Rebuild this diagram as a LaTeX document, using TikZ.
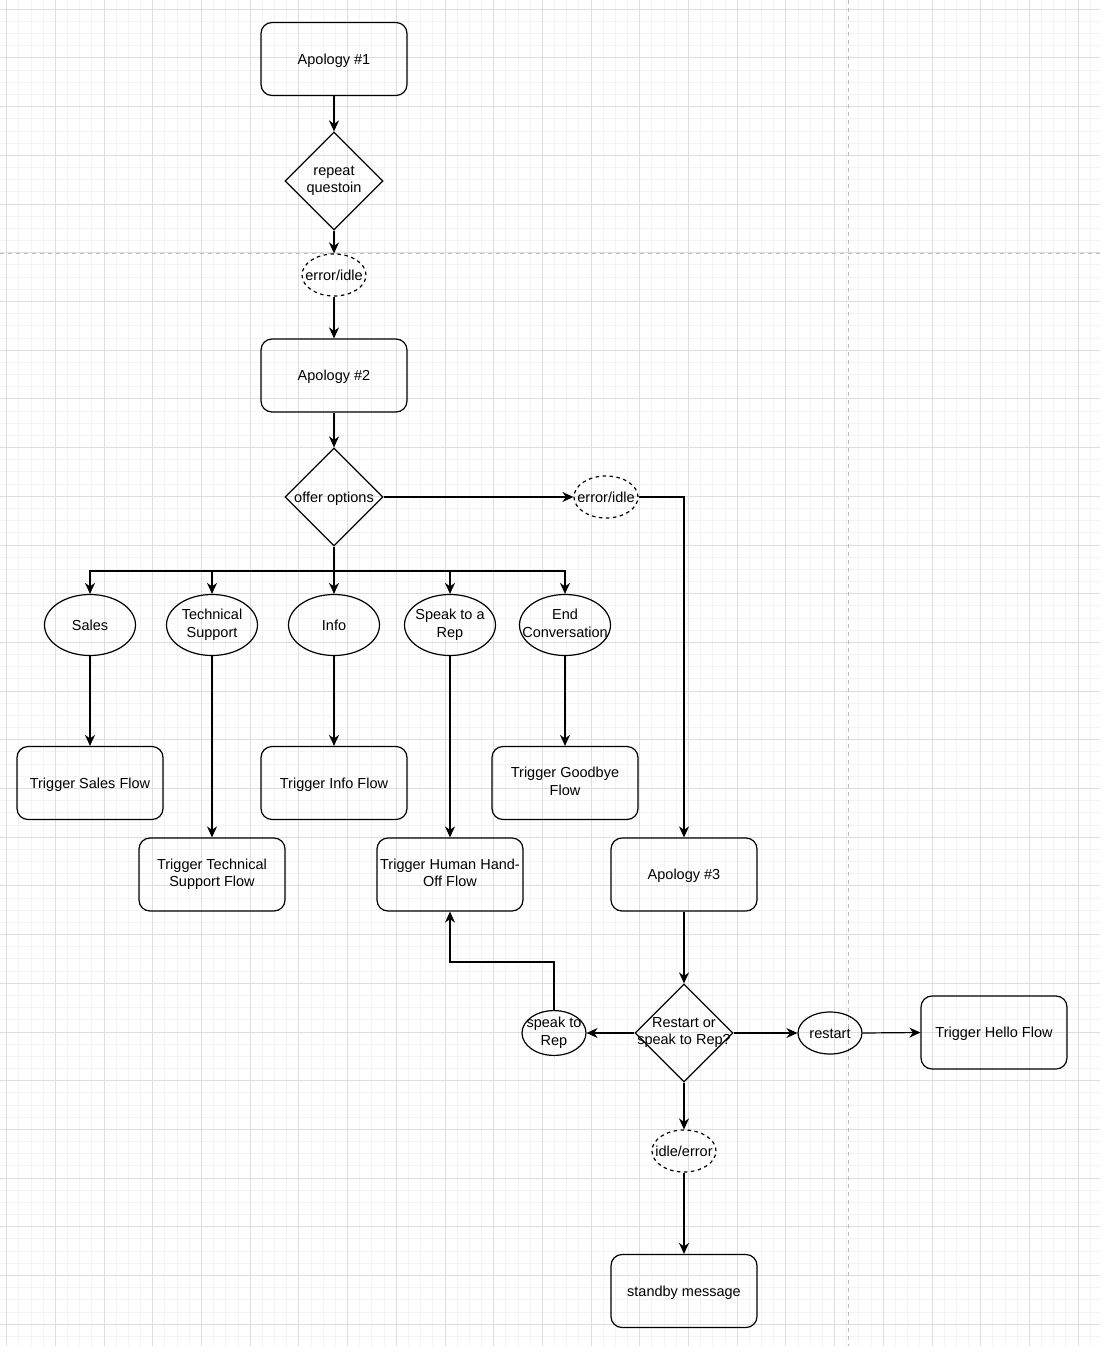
\documentclass[tikz,border=0pt]{standalone}
\usepackage{fontspec}
\setmainfont{Liberation Sans}
\usetikzlibrary{shapes.geometric,arrows.meta}
\newcommand{\zw}[1]{\makebox[0pt]{#1}}
\definecolor{gminor}{HTML}{F3F3F3}
\definecolor{gmajor}{HTML}{DEDEDE}
\definecolor{gpage}{HTML}{BDBDBD}
\begin{document}
\begin{tikzpicture}[x=1pt,y=-1pt,
  every node/.style={font=\fontsize{14.5}{17.5}\selectfont, align=center, inner sep=0pt, line width=1.2pt,
    execute at begin node={\rule{0pt}{13.7pt}}, execute at end node={\rule[-3.7pt]{0pt}{0pt}}},
  box/.style={draw, rounded corners=11pt, minimum width=146pt, minimum height=73pt},
  dia/.style={draw, diamond, minimum width=98pt, minimum height=98pt},
  oval/.style={draw, ellipse, minimum width=91pt, minimum height=61pt},
  small/.style={draw, ellipse, minimum width=64pt, minimum height=42pt},
  dsh/.style={small, dash pattern=on 3.5pt off 3.5pt},
  arr/.style={line width=1.2pt, -{Stealth[length=11pt,width=10pt,inset=3.5pt]}},
  ln/.style={line width=1.2pt},
  gridminor/.style={gminor, line width=1pt},
  gridmajor/.style={gmajor, line width=1pt},
  pagebreak/.style={gpage, line width=1pt, dash pattern=on 4pt off 4pt}
]
% background and grid
\fill[white] (0,0) rectangle (1100,1346);
\useasboundingbox (0,0) rectangle (1100,1346);
\foreach \i in {-1,...,90} \draw[gridminor] ({6.7+12.175*\i},0) -- ({6.7+12.175*\i},1346);
\foreach \i in {-1,...,110} \draw[gridminor] (0,{9.3+12.175*\i}) -- (1100,{9.3+12.175*\i});
\foreach \i in {0,...,22} \draw[gridmajor] ({6.7+48.7*\i},0) -- ({6.7+48.7*\i},1346);
\foreach \i in {0,...,27} \draw[gridmajor] (0,{9.3+48.7*\i}) -- (1100,{9.3+48.7*\i});
\draw[pagebreak] (0,253) -- (1100,253);
\draw[pagebreak] (848,0) -- (848,1346);

% nodes
\node[box] (a1) at (334,59) {Apology \#1};
\node[dia] (d1) at (334,181) {\zw{repeat}\\\zw{questoin}};
\node[dsh] (e1) at (334,275) {\zw{error/idle}};
\node[box] (a2) at (334,375.5) {Apology \#2};
\node[dia] (d2) at (334,497) {\zw{offer options}};
\node[dsh] (e2) at (606,497) {\zw{error/idle}};
\node[oval] (sales) at (90,625) {Sales};
\node[oval] (tech) at (212,625) {\zw{Technical}\\\zw{Support}};
\node[oval] (info) at (334,625) {Info};
\node[oval] (rep) at (450,625) {\zw{Speak to a}\\\zw{Rep}};
\node[oval] (endc) at (565,625) {\zw{End}\\\zw{Conversation}};
\node[box] (tsales) at (90,783) {Trigger Sales Flow};
\node[box] (tinfo) at (334,783) {Trigger Info Flow};
\node[box] (tgood) at (565,783) {Trigger Goodbye\\Flow};
\node[box] (ttech) at (212,874.5) {Trigger Technical\\Support Flow};
\node[box] (thuman) at (450,874.5) {\zw{Trigger Human Hand-}\\\zw{Off Flow}};
\node[box] (a3) at (684,874.5) {Apology \#3};
\node[dia] (d3) at (684,1033) {\zw{Restart or}\\\zw{speak to Rep?}};
\node[small] (srep) at (554,1033) {\zw{speak to}\\\zw{Rep}};
\node[small] (rst) at (830,1033) {\zw{restart}};
\node[box] (thello) at (994,1032.5) {Trigger Hello Flow};
\node[dsh] (ie) at (684,1151) {\zw{idle/error}};
\node[box] (standby) at (684,1291) {standby message};

% connectors
\draw[arr] (a1.south) -- (d1.north);
\draw[arr] (d1.south) -- (e1.north);
\draw[arr] (e1.south) -- (a2.north);
\draw[arr] (a2.south) -- (d2.north);
\draw[arr] (d2.east) -- (e2.west);
\draw[arr] (e2.east) -| (a3.north);
\coordinate (bus) at (334,571);
\draw[ln] (d2.south) -- (bus);
\draw[arr] (bus) -| (sales.north);
\draw[arr] (bus) -| (tech.north);
\draw[arr] (bus) -- (info.north);
\draw[arr] (bus) -| (rep.north);
\draw[arr] (bus) -| (endc.north);
\draw[arr] (sales.south) -- (tsales.north);
\draw[arr] (tech.south) -- (ttech.north);
\draw[arr] (info.south) -- (tinfo.north);
\draw[arr] (rep.south) -- (thuman.north);
\draw[arr] (endc.south) -- (tgood.north);
\draw[arr] (a3.south) -- (d3.north);
\draw[arr] (d3.west) -- (srep.east);
\draw[arr] (d3.east) -- (rst.west);
\draw[arr] (rst.east) -- (thello.west);
\coordinate (kink) at (450,962);
\draw[arr] (srep.north) |- (kink) -- (thuman.south);
\draw[arr] (d3.south) -- (ie.north);
\draw[arr] (ie.south) -- (standby.north);
\end{tikzpicture}
\end{document}
